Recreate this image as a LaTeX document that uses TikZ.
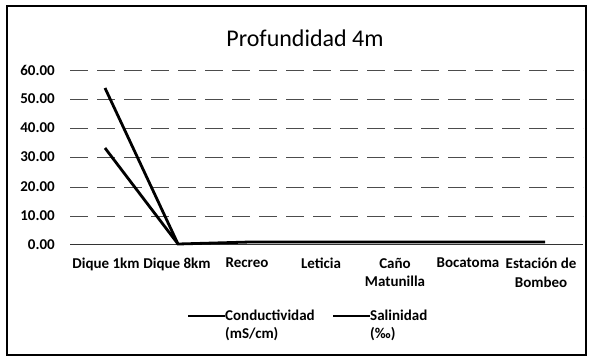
\documentclass[tikz,border=0pt]{standalone}
\usepackage{fontspec}
\setmainfont{Carlito}
\begin{document}
\begin{tikzpicture}[x=1pt,y=-1pt,
  ylab/.style={anchor=east,font=\bfseries\fontsize{15}{17}\selectfont,inner sep=0pt},
  xlab/.style={anchor=north,align=center,font=\bfseries\fontsize{15}{18.5}\selectfont,inner sep=0pt},
  grid/.style={black!70,line width=0.5pt,dash pattern=on 18pt off 9pt},
  series/.style={black,line width=2.8pt},
  leg/.style={anchor=west,align=left,font=\bfseries\fontsize{15}{18}\selectfont,inner sep=0pt}]
\useasboundingbox (0,0) rectangle (593,360);
\draw[line width=2pt] (7,6) rectangle (586,355);
\node[font=\fontsize{24}{28}\selectfont] (title) at (305,38) {Profundidad 4m};
% y labels & grid
\foreach \v/\yy in {60/70,50/99,40/128,30/157,20/187,10/216}{
  \node[ylab] (y\v) at (55,\yy) {\v.00};
  \coordinate (gl\v) at (70,\yy);
  \coordinate (gr\v) at (583,\yy);
  \draw[grid] (gl\v) -- (gr\v);
}
\node[ylab] (y0) at (55,245) {0.00};
\coordinate (al) at (70,244);
\coordinate (ar) at (583,244);
\draw[black!80,line width=0.7pt] (al) -- (ar);
% x labels
\node[xlab] (c1) at (106,258) {Dique 1km};
\node[xlab] (c2) at (177,258) {Dique 8km};
\node[xlab] (c3) at (247,258) {Recreo};
\node[xlab] (c4) at (321,258) {Leticia};
\node[xlab] (c5) at (395,258) {Caño\\Matunilla};
\node[xlab] (c6) at (468,258) {Bocatoma};
\node[xlab] (c7) at (541,258) {Estación de\\Bombeo};
% series
\coordinate (k1) at (105,88);
\coordinate (s1) at (105,148);
\coordinate (p2) at (178,244);
\coordinate (p3) at (250,242);
\coordinate (p4) at (322,242);
\coordinate (p5) at (396,242);
\coordinate (p6) at (468,242);
\coordinate (p7) at (545,242);
\draw[series] (k1) -- (p2) -- (p3) -- (p4) -- (p5) -- (p6) -- (p7);
\draw[series] (s1) -- (p2);
% legend
\coordinate (l1a) at (188,316);
\coordinate (l1b) at (225,316);
\draw[series] (l1a) -- (l1b);
\node[leg] (lg1) at (225,325) {Conductividad\\(mS/cm)};
\coordinate (l2a) at (333,316);
\coordinate (l2b) at (370,316);
\draw[series] (l2a) -- (l2b);
\node[leg] (lg2) at (370,325) {Salinidad\\(‰)};
\end{tikzpicture}
\end{document}
